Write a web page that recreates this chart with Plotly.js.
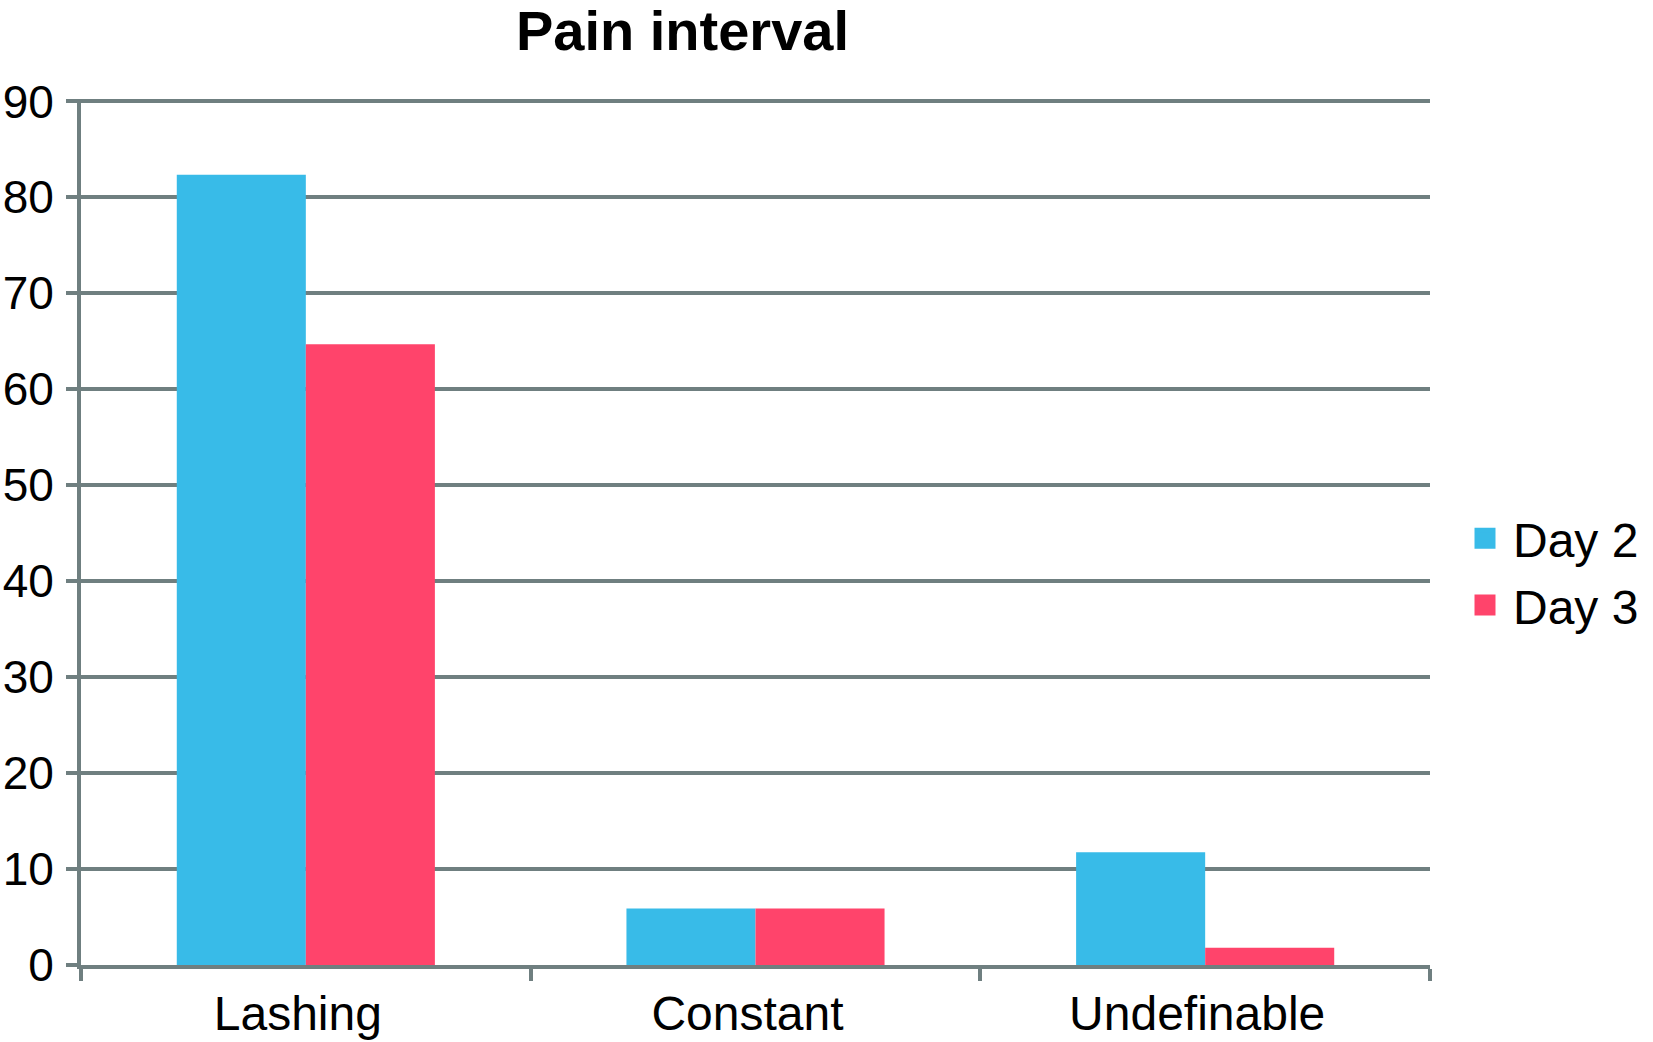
<!DOCTYPE html>
<html>
<head>
<meta charset="utf-8">
<script src="https://cdn.plot.ly/plotly-3.0.1.min.js"></script>
<style>html,body{margin:0;padding:0;background:#fff;}#chart{width:1653px;height:1042px;}</style>
</head>
<body>
<div id="chart"></div>
<script>
const categories = ["Lashing", "Constant", "Undefinable"];
const seriesNames = ["Day 2", "Day 3"];
const day2 = [82.35, 5.88, 11.76];
const day3 = [64.7, 5.88, 1.8];
const yTicks = [0, 10, 20, 30, 40, 50, 60, 70, 80, 90];
const colors = ["#38bbe8", "#ff446b"];
const titleText = "Pain interval";

const gridColor = "#6f7f80";
const font = "Liberation Sans, Arial, sans-serif";

const traces = [
  {type: "bar", x: categories, y: day2, name: seriesNames[0], marker: {color: colors[0]}, showlegend: false, hoverinfo: "y"},
  {type: "bar", x: categories, y: day3, name: seriesNames[1], marker: {color: colors[1]}, showlegend: false, hoverinfo: "y"},
  {type: "scatter", mode: "markers", x: [null], y: [null], name: seriesNames[0], legendgroup: "a",
   marker: {symbol: "square", size: 16, color: colors[0], line: {width: 5, color: colors[0]}}},
  {type: "scatter", mode: "markers", x: [null], y: [null], name: seriesNames[1], legendgroup: "b",
   marker: {symbol: "square", size: 16, color: colors[1], line: {width: 5, color: colors[1]}}}
];

const layout = {
  width: 1653, height: 1042,
  paper_bgcolor: "#fff", plot_bgcolor: "#fff",
  margin: {l: 81, r: 223, t: 99, b: 77, pad: 0},
  font: {family: font, color: "#000"},
  title: {text: "<b>" + titleText + "</b>", font: {family: font, size: 56, color: "#000"},
          x: 682.5 / 1653, xanchor: "center", xref: "container", y: 1 - 30 / 1042, yanchor: "middle", yref: "container"},
  barmode: "group", bargap: 0.426, bargroupgap: 0,
  xaxis: {
    type: "category", showgrid: false, zeroline: false,
    showline: true, linecolor: gridColor, linewidth: 4,
    ticks: "outside", tickson: "boundaries", ticklen: 12, tickwidth: 4, tickcolor: gridColor,
    tickfont: {family: font, size: 48, color: "#000"},
    ticklabelshift: -8, ticklabelstandoff: 3
  },
  yaxis: {
    range: [0, 90.25], tickvals: yTicks, ticktext: yTicks.map(String),
    showgrid: true, gridcolor: gridColor, gridwidth: 4, zeroline: false,
    showline: true, linecolor: gridColor, linewidth: 4,
    ticks: "outside", ticklen: 11, tickwidth: 4, tickcolor: gridColor,
    tickfont: {family: font, size: 46, color: "#000"},
    ticklabelstandoff: 3
  },
  legend: {
    xref: "container", yref: "container", x: 1457 / 1653, xanchor: "left", y: 1 - 572 / 1042, yanchor: "middle",
    font: {family: font, size: 48, color: "#000"}, itemsizing: "trace", itemwidth: 46,
    traceorder: "grouped", tracegroupgap: 1.5,
    bgcolor: "rgba(0,0,0,0)"
  },
  showlegend: true
};

Plotly.newPlot("chart", traces, layout, {displayModeBar: false, staticPlot: true});
</script>
</body>
</html>
